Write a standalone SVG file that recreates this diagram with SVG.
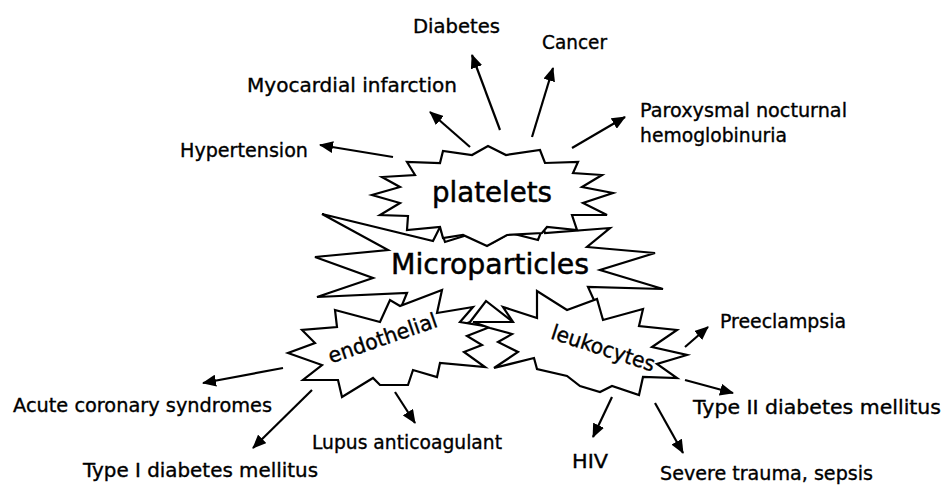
<svg xmlns="http://www.w3.org/2000/svg" width="945" height="485" viewBox="0 0 945 485">
<defs>
<style>
.star{fill:#fff;stroke:#000;stroke-width:2.2;stroke-linejoin:miter}
.lbl{font-family:"DejaVu Sans","Liberation Sans",sans-serif;font-size:19px;fill:#000;stroke:#000;stroke-width:0.35}
.big{font-family:"DejaVu Sans","Liberation Sans",sans-serif;font-size:28px;fill:#000;stroke:#000;stroke-width:0.5}
.mid{font-family:"DejaVu Sans","Liberation Sans",sans-serif;font-size:21px;fill:#000;stroke:#000;stroke-width:0.4}
.conn line{stroke:#000;stroke-width:2.2;marker-end:url(#ah)}
</style>
<marker id="ah" markerWidth="14" markerHeight="12" refX="13" refY="6" orient="auto" markerUnits="userSpaceOnUse">
<path d="M0,0 L14,6 L0,12 z" fill="#000"/>
</marker>
</defs>
<rect width="945" height="485" fill="#fff"/>

<g id="microparticles">
<path class="star" d="M322,214 L433,241 L440,227 L445,242 L477,232 L492,243 L510,233 L538,240 L543,227 L545,233 L610,228 L587,247 L655,253 L600,270 L663,289 L588,287 L603,320 L590,335 L520,335 L513,322 L486,301 L470,322 L450,330 L400,310 L407,293 L317,297 L373,278 L315,257 L388,250 Z"/>
<text class="big" x="490" y="274" text-anchor="middle" textLength="198" lengthAdjust="spacingAndGlyphs">Microparticles</text>
</g>

<g id="platelets">
<path class="star" d="M488,146 L506,155 L540,150 L545,163 L578,162 L573,173 L602,175 L582,187 L613,193 L583,203 L607,215 L572,215 L577,230 L547,227 L542,233 L507,235 L487,246 L463,235 L443,238 L440,227 L407,230 L408,216 L380,215 L400,203 L372,195 L400,187 L382,177 L415,175 L407,162 L440,163 L443,151 L472,155 Z"/>
<text class="big" x="432" y="202" textLength="120" lengthAdjust="spacingAndGlyphs">platelets</text>
</g>

<g id="endothelial">
<path class="star" d="M335,310 L380,322 L390,300 L400,306 L442,290 L437,313 L473,307 L460,322 L490,327 L467,336 L482,345 L464,352 L485,367 L440,363 L437,377 L413,370 L408,385 L380,385 L373,378 L342,397 L338,380 L303,380 L322,365 L288,353 L315,343 L302,330 L337,327 Z"/>
<text class="mid" x="385" y="345" text-anchor="middle" textLength="114" lengthAdjust="spacingAndGlyphs" transform="rotate(-19 385 345)">endothelial</text>
</g>

<g id="leukocytes">
<path class="star" d="M473,322 L513,322 L503,307 L537,318 L537,291 L567,310 L597,299 L603,320 L643,309 L639,326 L677,330 L652,347 L687,355 L657,364 L677,378 L643,377 L639,395 L612,386 L600,392 L580,386 L567,376 L537,369 L534,358 L494,368 L518,352 L498,342 L512,334 L490,328 Z"/>
<text class="mid" x="601" y="355" text-anchor="middle" textLength="108" lengthAdjust="spacingAndGlyphs" transform="rotate(18 601 355)">leukocytes</text>
</g>

<g id="connectors" class="conn">
<line x1="393" y1="157" x2="320" y2="145"/>
<line x1="470" y1="147" x2="430" y2="112"/>
<line x1="500" y1="130" x2="472" y2="55"/>
<line x1="532" y1="137" x2="553" y2="68"/>
<line x1="572" y1="148" x2="625" y2="117"/>
<line x1="283" y1="368" x2="203" y2="383"/>
<line x1="312" y1="390" x2="253" y2="448"/>
<line x1="395" y1="392" x2="415" y2="423"/>
<line x1="685" y1="347" x2="708" y2="327"/>
<line x1="685" y1="380" x2="733" y2="393"/>
<line x1="612" y1="397" x2="593" y2="437"/>
<line x1="655" y1="403" x2="683" y2="453"/>
</g>

<g id="labels">
<text class="lbl" x="413" y="33" textLength="87" lengthAdjust="spacingAndGlyphs">Diabetes</text>
<text class="lbl" x="542" y="49" textLength="65" lengthAdjust="spacingAndGlyphs">Cancer</text>
<text class="lbl" x="247" y="92" textLength="210" lengthAdjust="spacingAndGlyphs">Myocardial infarction</text>
<text class="lbl" x="180" y="157" textLength="128" lengthAdjust="spacingAndGlyphs">Hypertension</text>
<text class="lbl" x="640" y="117" textLength="207" lengthAdjust="spacingAndGlyphs">Paroxysmal nocturnal</text>
<text class="lbl" x="640" y="142" textLength="147" lengthAdjust="spacingAndGlyphs">hemoglobinuria</text>
<text class="lbl" x="720" y="328" textLength="126" lengthAdjust="spacingAndGlyphs">Preeclampsia</text>
<text class="lbl" x="693" y="414" textLength="248" lengthAdjust="spacingAndGlyphs">Type II diabetes mellitus</text>
<text class="lbl" x="13" y="412" textLength="259" lengthAdjust="spacingAndGlyphs">Acute coronary syndromes</text>
<text class="lbl" x="312" y="449" textLength="190" lengthAdjust="spacingAndGlyphs">Lupus anticoagulant</text>
<text class="lbl" x="83" y="477" textLength="235" lengthAdjust="spacingAndGlyphs">Type I diabetes mellitus</text>
<text class="lbl" x="572" y="468" textLength="36" lengthAdjust="spacingAndGlyphs">HIV</text>
<text class="lbl" x="660" y="480" textLength="213" lengthAdjust="spacingAndGlyphs">Severe trauma, sepsis</text>
</g>
</svg>
